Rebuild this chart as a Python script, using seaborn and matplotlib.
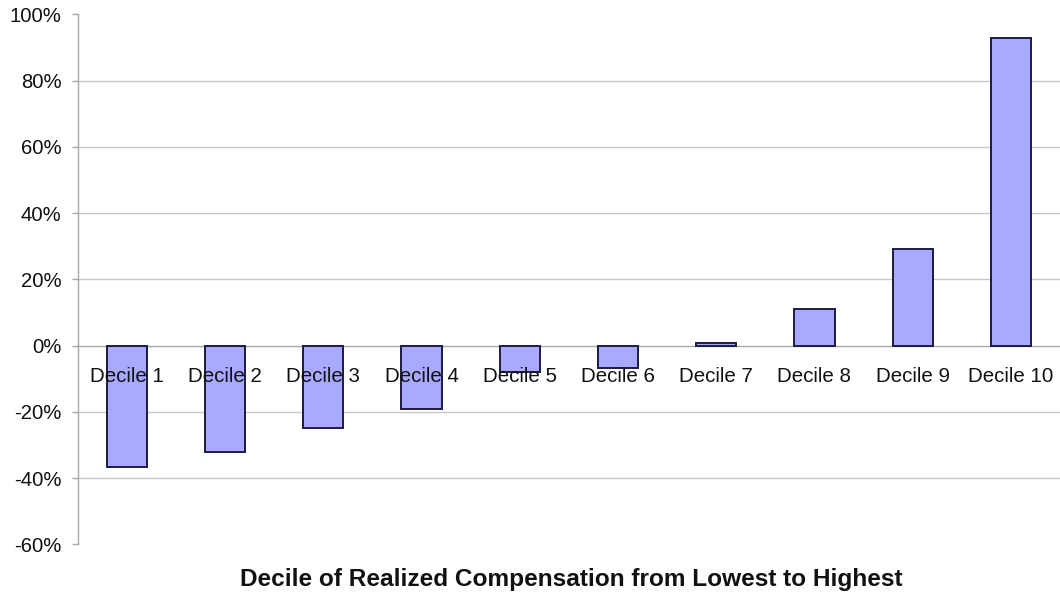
import matplotlib
matplotlib.use("Agg")
import matplotlib.pyplot as plt
from matplotlib.ticker import FixedLocator, FuncFormatter
import seaborn as sns
import pandas as pd

# Change in pay by decile of realized compensation (percent)
deciles = ["Decile 1", "Decile 2", "Decile 3", "Decile 4", "Decile 5",
           "Decile 6", "Decile 7", "Decile 8", "Decile 9", "Decile 10"]
change_pct = [-36.6, -32.1, -24.8, -19.1, -8.1, -6.8, 0.8, 11.1, 29.2, 92.7]
y_ticks = [-60, -40, -20, 0, 20, 40, 60, 80, 100]
x_title = "Decile of Realized Compensation from Lowest to Highest"

sns.set_style("white")
plt.rcParams["font.family"] = ["Liberation Sans", "DejaVu Sans"]

df = pd.DataFrame({"decile": deciles, "change": change_pct})

fig = plt.figure(figsize=(10.6, 5.99), dpi=100)
ax = fig.add_axes([0.0733, 0.0913, 0.9267, 0.8848])
ax.set_axisbelow(False)

# light horizontal gridlines between the outer ticks
ax.hlines([v for v in y_ticks[1:-1] if v != 0], xmin=0, xmax=1,
          transform=ax.get_yaxis_transform(), colors="#c8c8c8",
          linewidth=1.0, zorder=0)

sns.barplot(data=df, x="decile", y="change", ax=ax, width=0.41,
            color="#a9aaff", edgecolor="#1c1c40", linewidth=1.4,
            saturation=1, zorder=2)

ax.set_xlim(-0.5, len(deciles) - 0.5)
ax.set_ylim(y_ticks[0], y_ticks[-1])
ax.yaxis.set_major_locator(FixedLocator(y_ticks))
ax.yaxis.set_major_formatter(FuncFormatter(lambda v, p: f"{v:.0f}%"))

# category axis sits on the zero line
ax.spines["bottom"].set_position(("data", 0))
for side in ("top", "right"):
    ax.spines[side].set_visible(False)
for side in ("left", "bottom"):
    ax.spines[side].set_color("#a8a8a8")
    ax.spines[side].set_linewidth(1.0)
    ax.spines[side].set_zorder(1)

ax.xaxis.set_minor_locator(FixedLocator([i + 0.5 for i in range(-1, len(deciles))]))
ax.tick_params(axis="x", which="major", length=0, pad=15.5, labelsize=14.8,
               labelcolor="#111111")
ax.tick_params(axis="x", which="minor", length=3, width=1.0, color="#a8a8a8",
               direction="out")
ax.tick_params(axis="y", which="major", length=4, width=1.0, color="#a8a8a8",
               direction="out", pad=7.5, labelsize=14.6, labelcolor="#111111",
               left=True)
ax.set_xlabel("")
ax.set_ylabel("")

fig.text(0.539, 0.033, x_title, ha="center", va="center",
         fontsize=17.6, fontweight="bold", color="#111111")

fig.savefig("out.png", dpi=100)
